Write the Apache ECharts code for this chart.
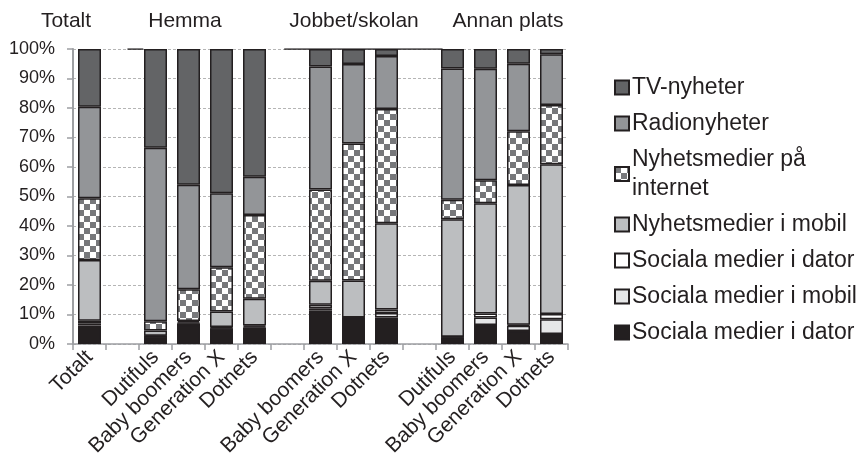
<!DOCTYPE html>
<html>
<head>
<meta charset="UTF-8">
<title></title>
<script src="https://cdn.jsdelivr.net/npm/echarts@6/dist/echarts.min.js"></script>
</head>
<body style="margin:0">
<div id="main" style="width:865px;height:467px;"></div>
<script type="text/javascript">
// kategorier (tomma platser mellan grupperna)
var categories = ['Totalt', '', 'Dutifuls', 'Baby boomers', 'Generation X', 'Dotnets', '',
    'Baby boomers', 'Generation X', 'Dotnets', '', 'Dutifuls', 'Baby boomers', 'Generation X', 'Dotnets'];
var groupTitles = ['Totalt', 'Hemma', 'Jobbet/skolan', 'Annan plats'];
var yTicks = [0, 10, 20, 30, 40, 50, 60, 70, 80, 90, 100];

// andelar i procent, nedifrån och upp
var socDatorSvart = [6.3, null, 2.6, 6.4, 5.3, 5.6, null, 11.3, 8.8, 9.0, null, 2.3, 6.4, 4.4, 3.4];
var socMobil      = [0.7, null, 0.1, 0.6, 0.2, 0.3, null, 0.8, 0.1, 1.5, null, 0.1, 2.6, 1.8, 5.0];
var socDatorVit   = [0.9, null, 0.1, 0.3, 0.3, 0.4, null, 1.2, 0.1, 1.2, null, 0.1, 1.3, 0.3, 1.8];
var nyhMobil      = [20.6, null, 1.8, 0.5, 5.2, 9.0, null, 8.1, 12.5, 29.2, null, 39.8, 37.4, 47.4, 50.7];
var nyhInternet   = [20.9, null, 3.1, 10.8, 15.0, 28.4, null, 31.0, 46.5, 38.8, null, 6.6, 7.8, 18.2, 20.1];
var radio         = [31.0, null, 58.8, 35.4, 25.1, 13.0, null, 41.7, 26.9, 17.9, null, 44.5, 37.8, 22.9, 17.2];
var tv            = [19.6, null, 33.5, 46.0, 48.9, 43.3, null, 5.9, 5.1, 2.4, null, 6.6, 6.7, 5.0, 1.8];

// linjen vid 100% (i kategorienheter)
var topRules = [[1.65, 2.13], [6.4, 11.2]];

var font = '"Liberation Sans", Arial, sans-serif';
var ink = '#231f20';

// rutmönster
var pat = document.createElement('canvas');
pat.width = 12; pat.height = 12;
var ctx = pat.getContext('2d');
ctx.fillStyle = '#ffffff'; ctx.fillRect(0, 0, 12, 12);
ctx.fillStyle = '#77787b'; ctx.fillRect(0, 0, 6, 6); ctx.fillRect(6, 6, 6, 6);

var seriesDefs = [
    {key: 's1', label: 'Sociala medier i dator', data: socDatorSvart, color: ink},
    {key: 's2', label: 'Sociala medier i mobil', data: socMobil, color: '#e6e7e8'},
    {key: 's3', label: 'Sociala medier i dator', data: socDatorVit, color: '#ffffff'},
    {key: 's4', label: 'Nyhetsmedier i mobil', data: nyhMobil, color: '#bcbec0'},
    {key: 's5', label: 'Nyhetsmedier på\ninternet', data: nyhInternet, color: {image: pat, repeat: 'repeat'}},
    {key: 's6', label: 'Radionyheter', data: radio, color: '#939598'},
    {key: 's7', label: 'TV-nyheter', data: tv, color: '#636466'}
];
var labelOf = {};
seriesDefs.forEach(function (d) { labelOf[d.key] = d.label; });

var series = seriesDefs.map(function (d) {
    return {
        name: d.key,
        type: 'bar',
        stack: 'all',
        barWidth: 23,
        data: d.data,
        itemStyle: {color: d.color, borderColor: ink, borderWidth: 1.5},
        emphasis: {disabled: true}
    };
});
topRules.forEach(function (r) {
    series.push({
        type: 'line',
        xAxisIndex: 1,
        symbol: 'none',
        silent: true,
        z: 1,
        lineStyle: {color: ink, width: 1.5},
        data: [[r[0], 100], [r[1], 100]]
    });
});

var titleX = [66, 185, 354, 508];

var myChart = echarts.init(document.getElementById('main'));
option = {
    animation: false,
    grid: {left: 73, right: 297, top: 49, bottom: 123},
    legend: {
        orient: 'vertical',
        left: 609,
        top: 68,
        itemWidth: 14,
        itemHeight: 14,
        itemGap: 7,
        icon: 'rect',
        selectedMode: false,
        data: seriesDefs.map(function (d) { return d.key; }).reverse(),
        formatter: function (n) { return labelOf[n]; },
        textStyle: {fontFamily: font, fontSize: 23, color: ink, lineHeight: 29, padding: [0, 0, 0, -2]}
    },
    xAxis: [{
        type: 'category',
        data: categories,
        axisLine: {lineStyle: {color: '#9d9fa2', width: 1.5}},
        axisTick: {show: true, length: 6, interval: 0, lineStyle: {color: '#9d9fa2', width: 1.5}},
        axisLabel: {interval: 0, rotate: 45, margin: 10, fontFamily: font, fontSize: 21, color: ink}
    }, {
        type: 'value',
        min: 0,
        max: categories.length,
        show: false
    }],
    yAxis: {
        type: 'value',
        min: yTicks[0],
        max: yTicks[yTicks.length - 1],
        interval: 10,
        axisLine: {show: true, lineStyle: {color: '#9d9fa2', width: 2}},
        axisTick: {show: true, length: 6, lineStyle: {color: '#9d9fa2', width: 1.5}},
        axisLabel: {margin: 18, formatter: '{value}%', fontFamily: font, fontSize: 18, color: ink},
        splitLine: {lineStyle: {color: '#b5b5b5', type: [3, 2], width: 1}}
    },
    graphic: groupTitles.map(function (t, i) {
        return {
            type: 'text',
            x: titleX[i],
            y: 21,
            style: {text: t, fontFamily: font, fontSize: 21, fill: ink, textAlign: 'center', textVerticalAlign: 'middle'}
        };
    }),
    series: series
};
myChart.setOption(option);
</script>
</body>
</html>
